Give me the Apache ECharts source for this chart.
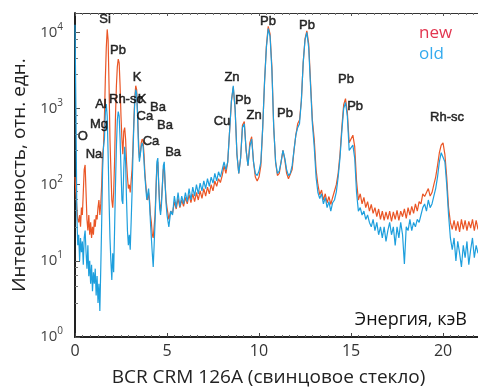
<!DOCTYPE html>
<html><head><meta charset="utf-8">
<script src="https://cdn.jsdelivr.net/npm/echarts@6/dist/echarts.min.js"></script>
<style>html,body{margin:0;padding:0;background:#fff}#c{width:478px;height:392px}</style>
</head><body><div id="c"></div>
<script>
// Energy channels, keV
const energyKeV = [
0,0.05,0.1,0.15,0.2,0.25,0.3,0.35,0.4,0.45,0.5,0.55,0.6,0.65,0.7,0.75,0.8,0.85,0.9,0.95,
1,1.05,1.1,1.15,1.2,1.25,1.3,1.35,1.4,1.45,1.5,1.55,1.6,1.65,1.7,1.75,1.8,1.85,1.9,1.95,
2,2.05,2.1,2.15,2.2,2.25,2.3,2.35,2.4,2.45,2.5,2.55,2.6,2.65,2.7,2.75,2.8,2.85,2.9,2.95,
3,3.05,3.1,3.15,3.2,3.25,3.3,3.35,3.4,3.45,3.5,3.55,3.6,3.65,3.7,3.75,3.8,3.85,3.9,3.95,
4,4.05,4.1,4.15,4.2,4.25,4.3,4.35,4.4,4.45,4.5,4.55,4.6,4.65,4.7,4.75,4.8,4.85,4.9,4.95,
5,
5.1,5.2,5.3,5.4,5.5,5.6,5.7,5.8,5.9,6,
6.1,6.2,6.3,6.4,6.5,6.6,6.7,6.8,6.9,7,
7.1,7.2,7.3,7.4,7.5,7.6,7.7,7.8,7.9,8,
8.1,8.2,8.3,8.4,8.5,8.6,8.7,8.8,8.9,9,
9.1,9.2,9.3,9.4,9.5,9.6,9.7,9.8,9.9,10,
10.1,10.2,10.3,10.4,10.5,10.6,10.7,10.8,10.9,11,
11.1,11.2,11.3,11.4,11.5,11.6,11.7,11.8,11.9,12,
12.1,12.2,12.3,12.4,12.5,12.6,12.7,12.8,12.9,13,
13.1,13.2,13.3,13.4,13.5,13.6,13.7,13.8,13.9,14,
14.1,14.2,14.3,14.4,14.5,14.6,14.7,14.8,14.9,15,
15.1,15.2,15.3,15.4,15.5,15.6,15.7,15.8,15.9,16,
16.1,16.2,16.3,16.4,16.5,16.6,16.7,16.8,16.9,17,
17.1,17.2,17.3,17.4,17.5,17.6,17.7,17.8,17.9,18,
18.1,18.2,18.3,18.4,18.5,18.6,18.7,18.8,18.9,19,
19.1,19.2,19.3,19.4,19.5,19.6,19.7,19.8,19.9,20,
20.1,20.2,20.3,20.4,20.5,20.6,20.7,20.8,20.9,21,
21.1,21.2,21.3,21.4,21.5,21.6,21.7,21.8,21.9,22
];
// "old" spectrum (blue)
const oldCounts = [
12600,1000,40,16,22,10,20,13,18,8.9,20,25,13,7.9,16,6.3,10,5,8.9,4,
7.1,5,7.9,3.5,6.3,2.8,5,2.2,7.9,32,158,316,398,891,1150,794,251,63,20,10,
5.6,12.6,7.1,25,100,316,708,912,794,398,158,63,56,158,316,200,63,25,16,22,
14,32,79,251,631,1259,1778,1585,794,316,200,251,316,355,316,200,126,89,63,63,
89,56,32,20,12.6,8.3,16,32,79,200,224,100,50,40,56,100,178,200,100,56,
40,
28,45,40,71,50,79,52,71,56,79,
60,89,63,93,71,100,76,105,83,112,
89,120,95,126,105,141,112,148,126,158,
200,158,200,501,1259,1995,1000,251,141,224,
562,631,282,178,316,398,200,141,132,151,
200,562,2239,6310,11220,8913,3162,562,200,141,
151,200,282,224,158,132,141,178,282,447,
562,631,1259,3981,7943,10000,6310,1995,631,316,
126,79,66,76,56,68,50,60,45,58,
63,80,126,224,501,1000,1202,794,282,282,
331,224,79,45,50,40,45,35,40,32,
28,35,25,32,22,28,20,28,18,25,
32,22,28,16,28,20,32,22,9.1,28,
25,35,25,32,28,35,32,40,50,56,
45,63,50,56,71,89,126,200,263,275,
200,100,40,20,14,20,10,18,12.6,8.3,
16,11,18,8.9,14,20,11,16,12.6,14
];
// "new" spectrum (red)
const newCounts = [
126,79,50,35,32,40,28,50,40,79,158,182,79,35,25,40,22,32,20,28,
22,35,28,40,35,50,63,40,56,100,251,316,794,2512,6310,10960,7943,1995,398,158,
63,50,79,200,794,1995,3548,4467,3981,1995,794,398,251,501,562,398,200,126,89,100,
79,112,158,316,708,1413,1995,1778,891,398,224,251,355,398,372,251,141,100,71,63,
79,63,40,32,22,20,28,40,89,178,200,100,56,45,63,100,158,178,100,63,
50,
35,45,42,60,48,66,50,63,52,68,
56,74,58,76,60,79,63,83,66,89,
71,93,76,100,83,112,95,120,107,132,
178,141,200,501,1259,1905,1000,251,141,224,
603,676,282,178,355,427,200,126,112,126,
178,562,2239,6607,12020,9550,3548,562,200,132,
141,200,282,214,141,120,126,158,282,447,
631,708,1259,3981,8318,10470,7079,2239,708,398,
158,100,74,85,63,76,58,70,55,68,
72,100,141,251,562,1122,1349,891,355,398,
447,316,112,63,76,56,68,50,60,45,
55,42,50,38,48,35,45,34,44,35,
45,33,44,35,46,34,45,38,48,36,
50,40,52,42,56,45,60,56,76,70,
79,89,71,79,100,126,178,263,331,355,
251,126,50,32,26,34,25,33,24,35,
26,34,25,33,27,35,25,34,26,33
];
const seriesNames = ['new', 'old'];
const xTickStep = 5;
// peak annotations: [text, energy keV, intensity]
const peakLabels = [
['Si',1.63,14750],['Pb',2.34,5840],['K',3.37,2530],['Al',1.41,1127],
['Rh-sc',2.77,1309],['K',3.64,1309],['Mg',1.30,620],['O',0.43,433],['Na',1.03,253],
['Ba',4.51,1030],['Ca',3.80,787],['Ba',4.89,601],['Ca',4.13,373],['Ba',5.33,268],
['Zn',8.53,2530],['Cu',7.99,678],['Pb',9.13,1270],['Zn',9.73,811],['Pb',11.41,861],
['Pb',10.49,13900],['Pb',12.61,12330],['Pb',14.73,2380],['Pb',15.22,1062],['Rh-sc',20.22,764]
];

const toPairs = arr => energyKeV.map((e, i) => [e, arr[i]]);
const chart = echarts.init(document.getElementById('c'), null, {renderer: 'canvas'});
const axisFont = '"Open Sans", "Noto Sans", sans-serif';
chart.setOption({
  animation: false,
  backgroundColor: '#fff',
  grid: {left: 75, top: 13, right: 0, bottom: 50},
  legend: {
    orient: 'vertical', left: 409, top: 20, itemWidth: 0, itemHeight: 0, itemGap: 4,
    selectedMode: false,
    textStyle: {fontSize: 17, fontFamily: axisFont},
    data: [
      {name: 'new', icon: 'rect', textStyle: {color: '#E2354F'}},
      {name: 'old', icon: 'rect', textStyle: {color: '#33AAEE'}}
    ]
  },
  xAxis: [{
    type: 'value', min: 0, max: 21.9, interval: xTickStep, position: 'bottom',
    name: 'BCR CRM 126A (свинцовое стекло)', nameLocation: 'middle', nameGap: 31,
    nameTextStyle: {fontSize: 19, color: '#222', fontFamily: axisFont, padding: [0, 16, 0, 0]},
    axisLine: {onZero: false, lineStyle: {color: '#222', width: 2}},
    axisTick: {show: true, inside: true, length: 4, lineStyle: {color: '#444'}},
    minorTick: {show: true, splitNumber: 12, length: 2, lineStyle: {color: '#666'}},
    axisLabel: {fontSize: 16, color: '#333', fontFamily: axisFont, margin: 6, showMaxLabel: false},
    splitLine: {show: false}
  }, {
    type: 'value', min: 0, max: 21.9, interval: xTickStep, position: 'top',
    axisLine: {onZero: false, lineStyle: {color: '#333', width: 1.2}},
    axisTick: {show: true, inside: true, length: 3, lineStyle: {color: '#555'}},
    minorTick: {show: true, splitNumber: 12, length: 2, lineStyle: {color: '#777'}},
    axisLabel: {show: false}, splitLine: {show: false}
  }],
  yAxis: {
    type: 'log', logBase: 10, min: 1, max: 18000,
    name: 'Интенсивность, отн. едн.', nameLocation: 'middle', nameGap: 43, nameRotate: 90,
    nameTextStyle: {fontSize: 19, color: '#222', fontFamily: axisFont},
    axisLine: {lineStyle: {color: '#222', width: 2}},
    axisTick: {show: true, inside: true, length: 5, lineStyle: {color: '#555'}},
    minorTick: {show: true, splitNumber: 5, length: 3, lineStyle: {color: '#777'}},
    axisLabel: {
      margin: 12, showMaxLabel: false,
      formatter: v => '{a|10}{b|' + Math.round(Math.log10(v)) + '}',
      rich: {
        a: {fontSize: 15, color: '#444', fontFamily: axisFont},
        b: {fontSize: 10, color: '#444', fontFamily: axisFont, padding: [0, 0, 11, 0]}
      }
    },
    splitLine: {show: false}
  },
  graphic: [{
    type: 'text', right: 11, top: 311,
    style: {text: 'Энергия, кэВ', font: '18px "Open Sans"', fill: '#111'}
  }],
  series: [{
    name: seriesNames[0], type: 'line', data: toPairs(newCounts), showSymbol: false,
    lineStyle: {color: '#EA5626', width: 1.2}, itemStyle: {color: '#EA5626'}, z: 2
  }, {
    name: seriesNames[1], type: 'line', data: toPairs(oldCounts), showSymbol: false,
    lineStyle: {color: '#1E9FDD', width: 1.2}, itemStyle: {color: '#1E9FDD'}, z: 3
  }, {
    name: 'labels', type: 'scatter', symbolSize: 0, silent: true, z: 5,
    itemStyle: {color: 'transparent'},
    data: peakLabels.map(d => ({name: d[0], value: [d[1], d[2]]})),
    label: {show: true, position: 'inside', formatter: '{b}', color: '#000', fontSize: 13,
      textBorderWidth: 0.5, textBorderColor: '#000',
      fontFamily: '"Liberation Sans", Arial, sans-serif'}
  }]
});
</script></body></html>
